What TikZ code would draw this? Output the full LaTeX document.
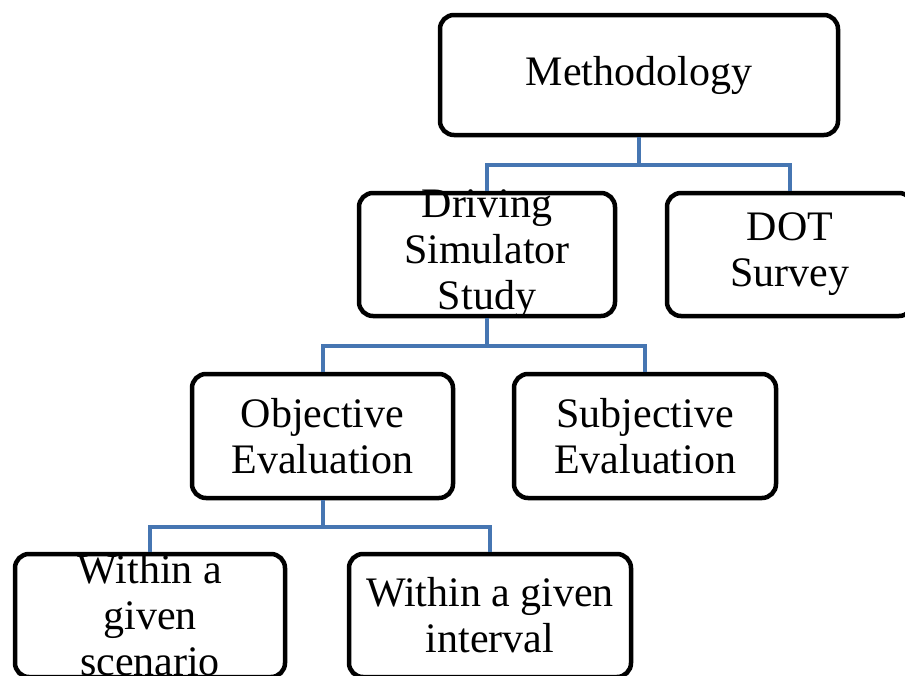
\documentclass[tikz,border=0pt]{standalone}
\usepackage{fontspec}
\setmainfont{Liberation Serif}
\definecolor{linkblue}{RGB}{70,118,178}
\tikzset{
    box/.style={draw, line width=4.5pt, rounded corners=14pt, fill=white,
        align=center, inner xsep=0pt, inner ysep=-4pt, font=\fontsize{42}{46}\selectfont},
    link/.style={draw=linkblue, line width=4pt}
}
\begin{document}
\begin{tikzpicture}[x=1pt, y=-1pt]
    \useasboundingbox (0,0) rectangle (905,675);

    % Top level
    \node[box, minimum width=398pt, minimum height=120pt] (method) at (639,75) {Methodology};

    % Second level
    \node[box, minimum width=256pt, minimum height=123pt] (drive) at (487,254.5) {Driving\\Simulator\\Study};
    \node[box, minimum width=246pt, minimum height=123pt] (dot) at (790,254.5) {DOT\\Survey};

    % Third level
    \node[box, minimum width=261pt, minimum height=124pt] (obj) at (322.5,436) {Objective\\Evaluation};
    \node[box, minimum width=262pt, minimum height=124pt] (subj) at (645,436) {Subjective\\Evaluation};

    % Fourth level
    \node[box, minimum width=270pt, minimum height=123pt] (scen) at (150,615.5) {Within a\\given\\scenario};
    \node[box, minimum width=282pt, minimum height=123pt] (intv) at (490,615.5) {Within a given\\interval};

    % Connectors
    \coordinate (busA) at (0,165);
    \coordinate (busB) at (0,346);
    \coordinate (busC) at (0,527);

    \draw[link] (method.south) -- (method.south |- busA);
    \draw[link] (drive.north) -- (drive.north |- busA) -- (dot.north |- busA) -- (dot.north);

    \draw[link] (drive.south) -- (drive.south |- busB);
    \draw[link] (obj.north) -- (obj.north |- busB) -- (subj.north |- busB) -- (subj.north);

    \draw[link] (obj.south) -- (obj.south |- busC);
    \draw[link] (scen.north) -- (scen.north |- busC) -- (intv.north |- busC) -- (intv.north);
\end{tikzpicture}
\end{document}
